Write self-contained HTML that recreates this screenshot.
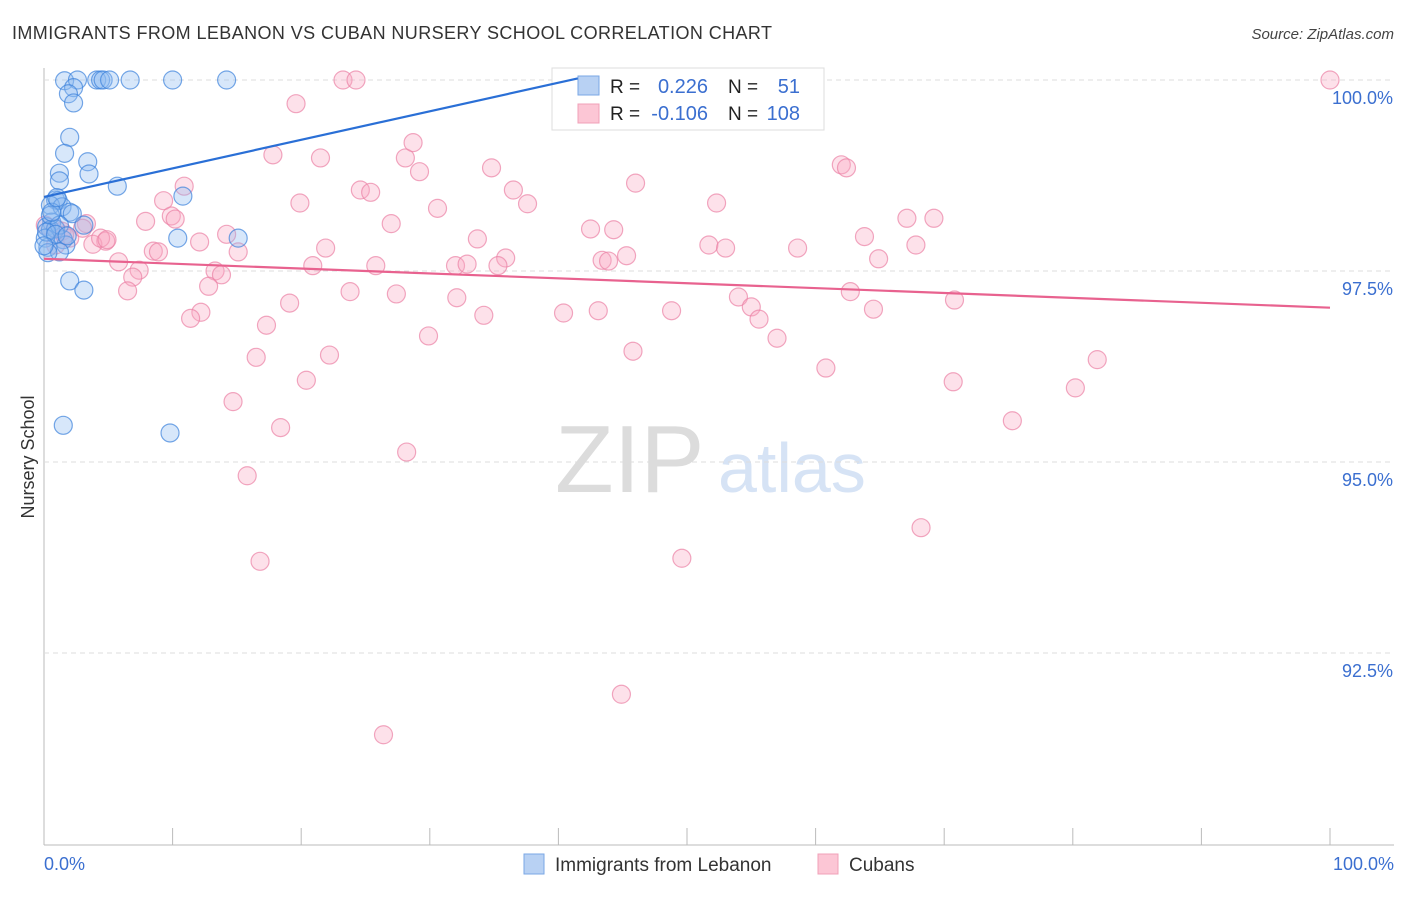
<!DOCTYPE html>
<html><head><meta charset="utf-8"><style>
body{margin:0;background:#fff;font-family:"Liberation Sans",sans-serif;}
svg text{font-family:"Liberation Sans",sans-serif;}
</style></head><body>
<svg id="chart" width="1406" height="892" xmlns="http://www.w3.org/2000/svg">
<text x="12" y="39" font-size="18" fill="#333" textLength="760">IMMIGRANTS FROM LEBANON VS CUBAN NURSERY SCHOOL CORRELATION CHART</text>
<text x="1394" y="39" font-size="15" fill="#444" font-style="italic" text-anchor="end">Source: ZipAtlas.com</text>
<text x="34" y="457" font-size="18" fill="#333" transform="rotate(-90 34 457)" text-anchor="middle">Nursery School</text>
<text x="555" y="492" font-size="96" fill="#dcdcdc" font-family="Liberation Serif">ZIP</text>
<text x="718" y="492" font-size="70" fill="#d6e3f5">atlas</text>
<g id="grid"></g><g id="pts"></g>
<g>
<rect x="552" y="68" width="272" height="62" fill="#fff" stroke="#ddd"/>
<rect x="578" y="76" width="21" height="19" fill="#b8d1f3" stroke="#7aa7e6"/>
<rect x="578" y="104" width="21" height="19" fill="#fcc6d5" stroke="#f0a0b8"/>
<text x="610" y="93" font-size="19" fill="#222">R = </text><text x="708" y="93" font-size="20" fill="#3b6fd0" text-anchor="end">0.226</text>
<text x="728" y="93" font-size="19" fill="#222">N = </text><text x="800" y="93" font-size="20" fill="#3b6fd0" text-anchor="end">51</text>
<text x="610" y="120" font-size="19" fill="#222">R = </text><text x="708" y="120" font-size="20" fill="#3b6fd0" text-anchor="end">-0.106</text>
<text x="728" y="120" font-size="19" fill="#222">N = </text><text x="800" y="120" font-size="20" fill="#3b6fd0" text-anchor="end">108</text>
</g>
<g id="lines"></g>
<g>
<rect x="524" y="854" width="20" height="20" fill="#b8d1f3" stroke="#7aa7e6"/>
<text x="555" y="871" font-size="19" fill="#333">Immigrants from Lebanon</text>
<rect x="818" y="854" width="20" height="20" fill="#fcc6d5" stroke="#f0a0b8"/>
<text x="849" y="871" font-size="19" fill="#333">Cubans</text>
</g>
</svg>
<script>
const xTickVals=[0,10,20,30,40,50,60,70,80,90,100];
const yTickVals=[100,97.5,95,92.5];
const yTickLabels=["100.0%","97.5%","95.0%","92.5%"];
const blueX=[1.6,2.6,4.1,4.4,4.6,5.1,6.7,10.0,14.2,2.3,1.9,2.3,2.0,1.6,3.4,1.2,3.5,1.2,5.7,10.8,0.9,1.1,0.5,1.4,2.0,2.2,0.6,0.2,0.5,0.9,3.1,0.1,1.5,1.7,10.4,15.1,0.3,1.2,0.3,2.0,3.1,1.5,9.8,0.5,1.2,0.2,0.9,1.8,0.6,0.0,1.0];
const blueY=[99.99,100,100,100,100,100,100,100,100,99.9,99.82,99.70,99.25,99.04,98.93,98.78,98.77,98.68,98.61,98.48,98.43,98.42,98.36,98.34,98.27,98.25,98.14,98.08,98.04,98.05,98.10,97.93,97.91,97.84,97.93,97.93,97.81,97.75,97.74,97.37,97.25,95.48,95.38,98.23,98.10,98.01,97.98,97.96,98.27,97.83,98.46];
const pinkX=[100,23.25,24.26,19.6,17.8,21.5,28.1,28.7,29.2,34.8,62.0,62.4,46.0,10.9,24.6,25.4,36.5,9.3,19.9,30.6,37.6,52.3,9.9,10.2,7.9,3.3,27.0,42.5,44.3,67.1,69.2,33.7,63.8,12.1,14.2,15.1,4.8,3.8,8.5,8.9,21.9,51.7,53.0,58.6,67.8,5.8,20.9,25.8,32.0,32.9,35.9,35.3,43.4,43.9,45.3,64.9,7.4,6.9,13.3,13.8,12.8,6.5,23.8,27.4,32.1,19.1,54.0,55.0,62.7,70.8,12.2,11.4,34.2,40.4,43.1,48.8,55.6,64.5,17.3,29.9,57.0,45.8,16.5,22.2,20.4,60.8,70.7,81.9,80.2,14.7,18.4,75.3,28.2,15.8,68.2,16.8,49.6,44.9,26.4,0.1,0.9,1.4,2.0,3.0,4.4,4.9,0.9,1.6];
const pinkY=[100,100,100,99.69,99.02,98.98,98.98,99.18,98.80,98.85,98.89,98.85,98.65,98.61,98.56,98.53,98.56,98.42,98.39,98.32,98.38,98.39,98.22,98.18,98.15,98.12,98.12,98.05,98.04,98.19,98.19,97.92,97.95,97.88,97.98,97.75,97.89,97.85,97.76,97.75,97.80,97.84,97.80,97.80,97.84,97.62,97.57,97.57,97.57,97.59,97.67,97.57,97.64,97.63,97.70,97.66,97.51,97.42,97.50,97.45,97.30,97.24,97.23,97.20,97.15,97.08,97.16,97.03,97.23,97.12,96.96,96.88,96.92,96.95,96.98,96.98,96.87,97.00,96.79,96.65,96.62,96.45,96.37,96.40,96.07,96.23,96.05,96.34,95.97,95.79,95.45,95.54,95.13,94.82,94.14,93.70,93.74,91.96,91.43,98.10,98.06,98.02,97.93,98.06,97.93,97.91,97.84,97.97];
const blueTrend=[98.47,100.02];const blueTrendX=[0,41.5];
const pinkTrend=[97.66,97.02];const pinkTrendX=[0,100];
const NS="http://www.w3.org/2000/svg";
function sx(v){return 44+v*12.86;}
function sy(v){return 80+(100-v)/2.5*191;}
const grid=document.getElementById('grid');
function mk(tag,attrs,parent){const e=document.createElementNS(NS,tag);for(const k in attrs)e.setAttribute(k,attrs[k]);parent.appendChild(e);return e;}
let ax=mk('line',{x1:44,y1:68,x2:44,y2:845,stroke:'#bbb'},grid);


let bx=mk('line',{x1:44,y1:845,x2:1394,y2:845,stroke:'#bbb'},grid);


yTickVals.forEach((v,i)=>{
 let g=mk('line',{x1:44,y1:sy(v),x2:1394,y2:sy(v),stroke:'#ddd','stroke-dasharray':'5,4'},grid);
 
 
 let t=mk('text',{x:1393,y:sy(v)+24,'font-size':18,fill:'#3b6fd0','text-anchor':'end'},grid);t.textContent=yTickLabels[i];
 
 
});
xTickVals.forEach(v=>{
 let t=mk('line',{x1:sx(v),y1:828,x2:sx(v),y2:845,stroke:'#bbb'},grid);
 
 
});
let xl=mk('text',{x:44,y:870,'font-size':18,fill:'#3b6fd0'},grid);xl.textContent='0.0%';


let xr=mk('text',{x:1394,y:870,'font-size':18,fill:'#3b6fd0','text-anchor':'end'},grid);xr.textContent='100.0%';


const pts=document.getElementById('pts');
pinkX.forEach((x,i)=>{
 let c=mk('circle',{cx:sx(x),cy:sy(pinkY[i]),r:9,fill:'rgba(248,170,195,0.35)',stroke:'rgba(235,130,165,0.7)','stroke-width':1.2},pts);
 
 
});
blueX.forEach((x,i)=>{
 let c=mk('circle',{cx:sx(x),cy:sy(blueY[i]),r:9,fill:'rgba(140,185,240,0.35)',stroke:'rgba(60,130,220,0.7)','stroke-width':1.2},pts);
 
 
});
const lines=document.getElementById('lines');
let bl=mk('line',{x1:sx(blueTrendX[0]),y1:sy(blueTrend[0]),x2:sx(blueTrendX[1]),y2:sy(blueTrend[1]),stroke:'#2a6fd6','stroke-width':2.2},lines);


let pl=mk('line',{x1:sx(pinkTrendX[0]),y1:sy(pinkTrend[0]),x2:sx(pinkTrendX[1]),y2:sy(pinkTrend[1]),stroke:'#e8628f','stroke-width':2.2},lines);


</script>
</body></html>
